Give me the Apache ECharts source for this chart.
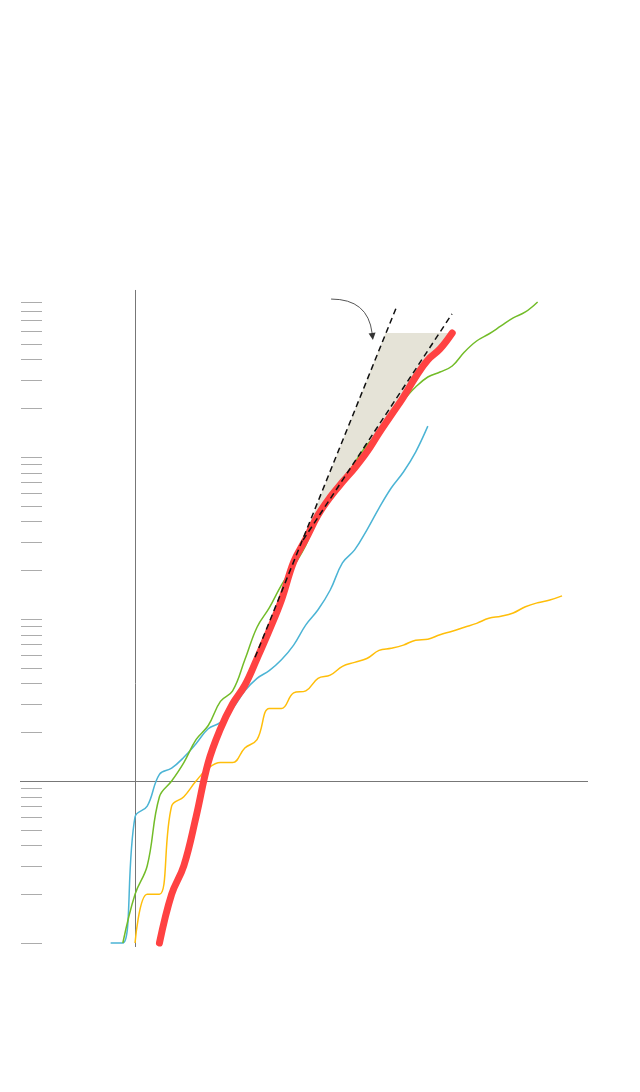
<!DOCTYPE html>
<html><head><meta charset="utf-8">
<script src="https://cdn.jsdelivr.net/npm/echarts@6/dist/echarts.min.js"></script>
<style>html,body{margin:0;padding:0;background:#fff}#c{width:640px;height:1092px}</style>
</head><body><div id="c"></div>
<script>
// Days relative to the vertical reference line (day 0); values on a log scale
const blueStart = -2;
const blueValues = [1,1,6,7,11,12,14,17,21,23,28,36,43,48,56,69,92,114,151,222,267,354,484,644,808,1073,1550];
const greenStart = -1;
const greenValues = [1,2,3,8,10,13,18,22,31,36,56,89,117,162,212,286,426,543,691,918,1186,1426,1870,2249,2704,3118,3347,3646,4447,5199,5745,6441,7217,7857,9057];
const yellowStart = 0;
const yellowValues = [1,2,2,7,8,10,12,13,13,16,18,28,28,35,36,43,45,51,54,57,64,66,69,74,75,80,84,89,94,101,104,109,119,126,131,139];
const redStart = 2;
const redValues = [1,2,3,6,13,21,30,39,57,85,131,225,312,438,566,700,855,1073,1406,1815,2344,3118,3971,4645,5825];

// Exponential guide lines (dashed)
const fastGuide = [[9.84, 58], [21.5, 8680]];
const slowGuide = [[13.77, 307], [25.98, 7640]];
// Shaded band: corner on the fast guide, then follows the red line back down
const shadeCorner = [[13.77, 307], [20.54, 5825]];
const shadeRedFrom = 14;

// Annotation arrow
const arrowLine = [[16.07, 9440, 19.5, 5280]];

// Y tick values (log scale), reference lines
const tickValues = [1,2,3,4,5,6,7,8,9,20,30,40,50,60,70,80,90,100,200,300,400,500,600,700,800,900,1000,2000,3000,4000,5000,6000,7000,8000,9000];
const baselineValue = 10;
const axisSegments = [[0, 0.945, 1692], [0, 906, 10740]];

const toPairs = (start, vals) => vals.map((v, i) => [start + i, v]);
const redPairs = toPairs(redStart, redValues);
const shadePoints = shadeCorner.concat(redPairs.filter(p => p[0] >= shadeRedFrom).reverse());

const chart = echarts.init(document.getElementById('c'), null, {renderer: 'canvas'});
chart.setOption({
  animation: false,
  backgroundColor: '#fff',
  grid: {left: 20, right: 52, top: 295, bottom: 149},
  xAxis: {type: 'value', min: -9.43, max: 37.13, show: false},
  yAxis: {type: 'log', logBase: 10, min: 1, max: 10000, show: false},
  series: [
    {
      type: 'custom', z: 1, clip: false,
      data: shadePoints,
      renderItem: function (params, api) {
        if (params.dataIndex !== 0) return null;
        const pts = shadePoints.map(p => api.coord(p));
        return {type: 'polygon', shape: {points: pts}, style: {fill: '#e5e3d7', stroke: null}};
      }
    },
    {
      type: 'custom', z: 2, clip: false,
      data: tickValues.map(v => [0, v]),
      renderItem: function (params, api) {
        const p = api.coord([api.value(0), api.value(1)]);
        const cs = params.coordSys;
        const y = Math.round(p[1]) + 0.5;
        return {type: 'line', shape: {x1: cs.x + 1, y1: y, x2: cs.x + 22, y2: y}, style: {stroke: '#acacac', lineWidth: 1}};
      }
    },
    {
      type: 'custom', z: 2, clip: false,
      data: [[0, baselineValue]],
      renderItem: function (params, api) {
        const p = api.coord([api.value(0), api.value(1)]);
        const cs = params.coordSys;
        const y = Math.round(p[1]) + 0.5;
        return {type: 'line', shape: {x1: cs.x, y1: y, x2: cs.x + cs.width, y2: y}, style: {stroke: '#777', lineWidth: 1}};
      }
    },
    {
      type: 'custom', z: 2, clip: false,
      data: axisSegments,
      encode: {x: 0, y: [1, 2]},
      renderItem: function (params, api) {
        const a = api.coord([api.value(0), api.value(1)]);
        const b = api.coord([api.value(0), api.value(2)]);
        const x = Math.round(a[0]) + 0.5;
        return {type: 'line', shape: {x1: x, y1: a[1], x2: x, y2: b[1]}, style: {stroke: '#777', lineWidth: 1}};
      }
    },
    {
      type: 'line', z: 3, clip: false, symbol: 'none', smooth: 0.4,
      data: toPairs(blueStart, blueValues),
      lineStyle: {color: '#4bb4d5', width: 1.5}
    },
    {
      type: 'line', z: 3, clip: false, symbol: 'none', smooth: 0.4,
      data: toPairs(yellowStart, yellowValues),
      lineStyle: {color: '#ffbe0a', width: 1.5}
    },
    {
      type: 'line', z: 3, clip: false, symbol: 'none', smooth: 0.4,
      data: toPairs(greenStart, greenValues),
      lineStyle: {color: '#72bc28', width: 1.5}
    },
    {
      type: 'line', z: 4, clip: false, symbol: 'none', smooth: 0.4,
      data: redPairs,
      lineStyle: {color: '#ff4242', width: 7, cap: 'round', join: 'round'}
    },
    {
      type: 'line', z: 5, clip: false, symbol: 'none',
      data: fastGuide,
      lineStyle: {color: '#111', width: 1.5, type: [6, 4]}
    },
    {
      type: 'line', z: 5, clip: false, symbol: 'none',
      data: slowGuide,
      lineStyle: {color: '#111', width: 1.5, type: [6, 4]}
    },
    {
      type: 'custom', z: 5, clip: false,
      data: arrowLine,
      encode: {x: [0, 2], y: [1, 3]},
      renderItem: function (params, api) {
        const p1 = api.coord([api.value(0), api.value(1)]);
        const p2 = api.coord([api.value(2), api.value(3)]);
        const cp = [p2[0] - 0.12 * (p2[0] - p1[0]), p1[1]];
        let dx = p2[0] - cp[0], dy = p2[1] - cp[1];
        const len = Math.sqrt(dx * dx + dy * dy); dx /= len; dy /= len;
        const head = 7, hw = 3.5;
        const base = [p2[0] - dx * head, p2[1] - dy * head];
        return {
          type: 'group',
          children: [
            {type: 'bezierCurve', shape: {x1: p1[0], y1: p1[1], x2: base[0], y2: base[1], cpx1: cp[0], cpy1: cp[1]},
             style: {stroke: '#555', lineWidth: 1, fill: null}},
            {type: 'polygon', shape: {points: [p2, [base[0] - dy * hw, base[1] + dx * hw], [base[0] + dy * hw, base[1] - dx * hw]]},
             style: {fill: '#333', stroke: null}}
          ]
        };
      }
    }
  ]
});
</script>
</body></html>
